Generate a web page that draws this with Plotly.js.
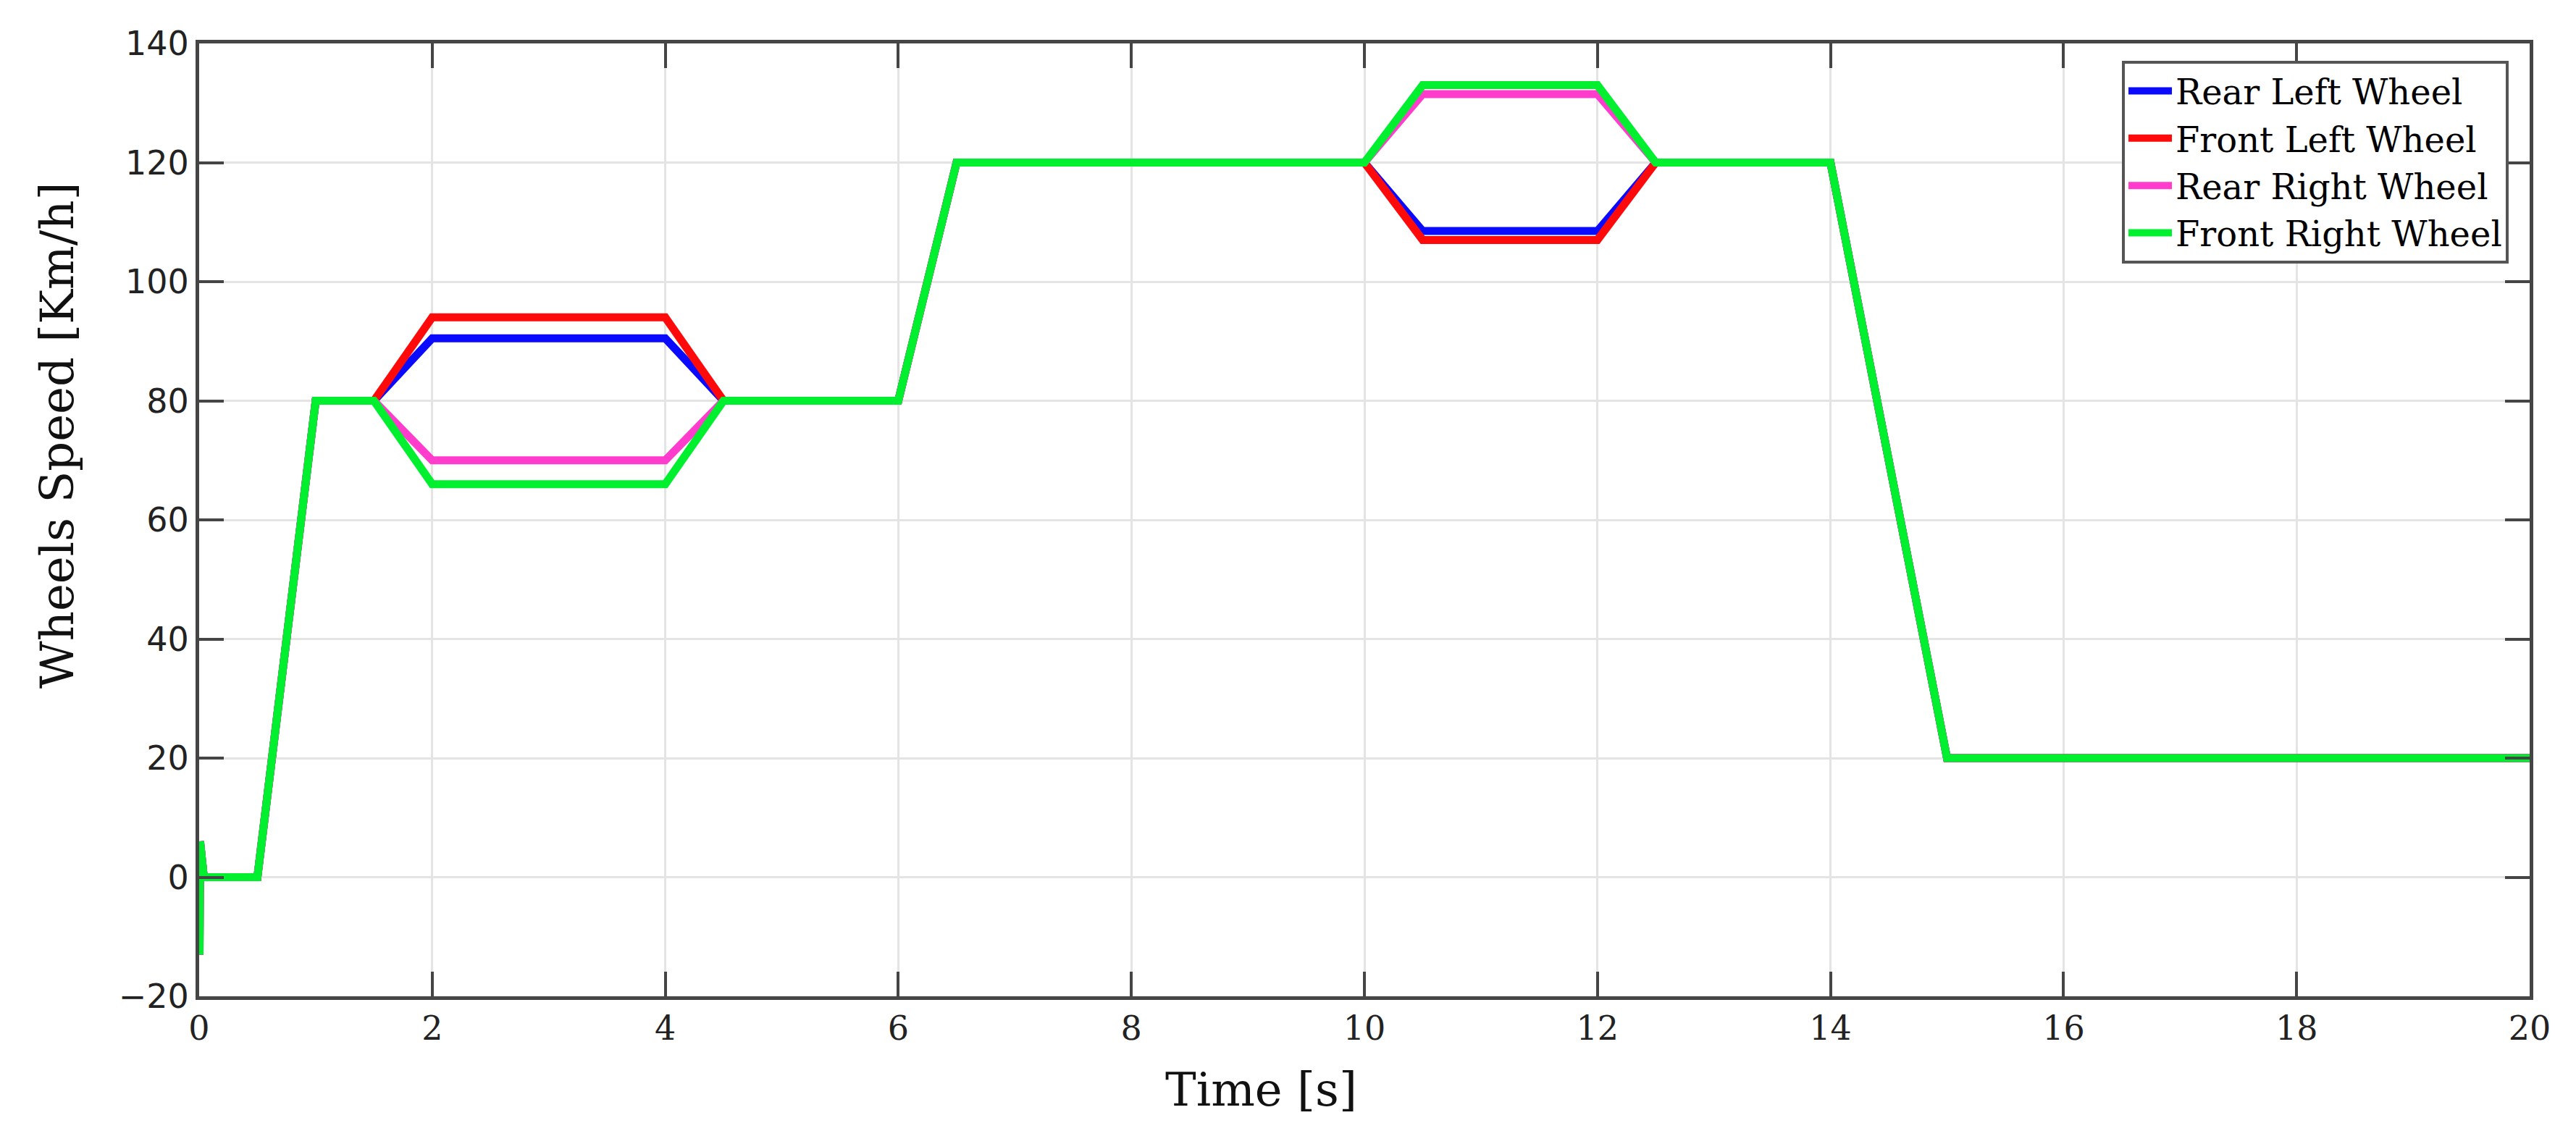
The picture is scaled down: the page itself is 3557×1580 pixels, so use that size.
<!DOCTYPE html>
<html>
<head>
<meta charset="utf-8">
<script src="https://cdn.plot.ly/plotly-3.0.1.min.js"></script>
<style>
  html, body { margin:0; padding:0; background:#ffffff; }
  #speedChart { width:3557px; height:1580px; }
</style>
</head>
<body>
<div id="speedChart"></div>
<script>

/* ==========================================
   DATA
========================================== */

const time = [0, 0.003, 0.008, 0.04, 0.5, 1.0, 1.5, 2.0, 4.0, 4.5, 6.0, 6.5, 10.0, 10.5, 12.0, 12.5, 14.0, 15.0, 20.0];

const rearLeft   = [0, -13, 6, 0, 0, 80, 80, 90.5, 90.5, 80, 80, 120, 120, 108.5, 108.5, 120, 120, 20, 20];
const frontLeft  = [0, -13, 6, 0, 0, 80, 80, 94,   94,   80, 80, 120, 120, 107,   107,   120, 120, 20, 20];
const rearRight  = [0, -13, 6, 0, 0, 80, 80, 70,   70,   80, 80, 120, 120, 131.5, 131.5, 120, 120, 20, 20];
const frontRight = [0, -13, 6, 0, 0, 80, 80, 66,   66,   80, 80, 120, 120, 133,   133,   120, 120, 20, 20];

const seriesNames  = ["Rear Left Wheel", "Front Left Wheel", "Rear Right Wheel", "Front Right Wheel"];
const seriesColors = ["#0a0aff", "#ff0a0a", "#ff3ccc", "#00f030"];

const xTicks = [0, 2, 4, 6, 8, 10, 12, 14, 16, 18, 20];
const yTicks = [-20, 0, 20, 40, 60, 80, 100, 120, 140];


/* ==========================================
   DRAW
========================================== */

function drawWheelSpeed(){

    const values = [rearLeft, frontLeft, rearRight, frontRight];

    const traces = values.map((v, i)=>{

        return {
            x: time,
            y: v,
            type: "scatter",
            mode: "lines",
            name: seriesNames[i],
            line: { color: seriesColors[i], width: 11, simplify: false }
        };

    });

    const axisColor = "#454545";

    Plotly.newPlot(
        "speedChart",
        traces,
        {
            width: 3557,
            height: 1580,
            paper_bgcolor: "#ffffff",
            plot_bgcolor: "#ffffff",
            margin: { l: 275, r: 64, t: 60, b: 204 },
            showlegend: true,
            legend: {
                x: 0.991,
                y: 0.982,
                xanchor: "right",
                yanchor: "top",
                bgcolor: "#ffffff",
                bordercolor: "#555555",
                borderwidth: 4,
                itemwidth: 60,
                tracegroupgap: 0,
                font: { family: "DejaVu Serif", size: 48, color: "#000000" }
            },
            xaxis: {
                range: [0, 20],
                tickvals: xTicks,
                ticktext: xTicks.map(String),
                ticks: "inside",
                ticklen: 34,
                tickwidth: 4,
                tickcolor: axisColor,
                showline: true,
                linecolor: axisColor,
                linewidth: 5,
                mirror: "ticks",
                showgrid: true,
                gridcolor: "#e4e4e4",
                gridwidth: 3,
                zeroline: false,
                tickfont: { family: "DejaVu Serif", size: 46, color: "#222222" }
            },
            yaxis: {
                range: [-20, 140],
                tickvals: yTicks,
                ticktext: yTicks.map(v => v < 0 ? "\u2212" + Math.abs(v) : String(v)),
                ticks: "inside",
                ticklen: 34,
                tickwidth: 4,
                tickcolor: axisColor,
                showline: true,
                linecolor: axisColor,
                linewidth: 5,
                mirror: "ticks",
                showgrid: true,
                gridcolor: "#e4e4e4",
                gridwidth: 3,
                zeroline: false,
                tickfont: { family: "DejaVu Sans", size: 46, color: "#222222" }
            },
            annotations: [
                {
                    text: "Time [s]",
                    xref: "paper", yref: "paper",
                    x: (1741 - 275) / 3218,
                    y: -(1505 - 1376) / 1316,
                    xanchor: "center", yanchor: "middle",
                    showarrow: false,
                    font: { family: "DejaVu Serif", size: 64, color: "#111111" }
                },
                {
                    text: "Wheels Speed [Km/h]",
                    xref: "paper", yref: "paper",
                    x: -(275 - 79) / 3218,
                    y: (1376 - 601) / 1316,
                    xanchor: "center", yanchor: "middle",
                    textangle: -90,
                    showarrow: false,
                    font: { family: "DejaVu Serif", size: 64, color: "#111111" }
                }
            ]
        },
        { displayModeBar: false, responsive: false }
    );

}

drawWheelSpeed();

</script>
</body>
</html>
